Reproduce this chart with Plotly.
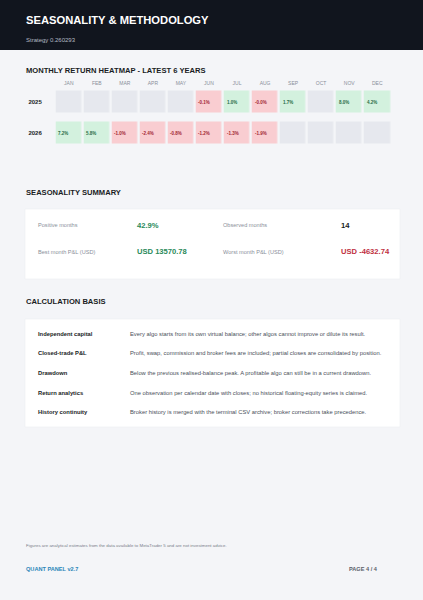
import plotly.graph_objects as go

W, H = 423, 600
FONT = "Liberation Sans, Arial, sans-serif"

months = ["JAN", "FEB", "MAR", "APR", "MAY", "JUN", "JUL", "AUG", "SEP", "OCT", "NOV", "DEC"]
years = ["2025", "2026"]
returns_2025 = [None, None, None, None, None, -0.1, 1.0, -0.04, 1.7, None, 8.0, 4.2]
returns_2026 = [7.2, 5.8, -1.0, -2.4, -0.8, -1.2, -1.3, -1.9, None, None, None, None]

summary_labels = ["Positive months", "Observed months", "Best month P&L (USD)", "Worst month P&L (USD)"]
summary_values = ["42.9%", "14", "USD 13570.78", "USD -4632.74"]

basis_labels = ["Independent capital", "Closed-trade P&L", "Drawdown", "Return analytics", "History continuity"]
basis_texts = [
    "Every algo starts from its own virtual balance; other algos cannot improve or dilute its result.",
    "Profit, swap, commission and broker fees are included; partial closes are consolidated by position.",
    "Below the previous realised-balance peak. A profitable algo can still be in a current drawdown.",
    "One observation per calendar date with closes; no historical floating-equity series is claimed.",
    "Broker history is merged with the terminal CSV archive; broker corrections take precedence.",
]

GREEN_BG, GREEN_TX = "#d3f1de", "#1f6b46"
RED_BG, RED_TX = "#f9cdd1", "#a32632"
EMPTY_BG = "#e6e8ee"


def px(x):
    return x / W


def py(y):
    return 1 - y / H


rows = [returns_2025, returns_2026]
z = [[0 if v is None else (1 if v >= 0 else 2) for v in r] for r in rows]
xi = list(range(len(months)))
yi = list(range(len(years)))

fig = go.Figure()
fig.add_trace(go.Heatmap(
    x=xi, y=yi, z=z,
    zmin=0, zmax=2,
    colorscale=[[0, EMPTY_BG], [0.25, EMPTY_BG], [0.25, GREEN_BG], [0.75, GREEN_BG],
                [0.75, RED_BG], [1, RED_BG]],
    showscale=False, xgap=2.5, ygap=9, hoverinfo="skip",
))

ann = []
for j, r in enumerate(rows):
    for i, v in enumerate(r):
        if v is None:
            continue
        ann.append(dict(x=i, y=j, xref="x", yref="y", text=f"<b>{v:.1f}%</b>",
                        xanchor="left", xshift=-12.5, showarrow=False,
                        font=dict(family=FONT, size=4.5, color=GREEN_TX if v >= 0 else RED_TX)))

shapes = []
# header band
shapes.append(dict(type="rect", xref="paper", yref="paper", x0=0, x1=1, y0=py(50), y1=1,
                   fillcolor="#11151e", line=dict(width=0), layer="below"))
# cards
for (y0, y1) in [(209, 279), (319, 427)]:
    shapes.append(dict(type="rect", xref="paper", yref="paper", x0=px(25), x1=px(400),
                       y0=py(y1), y1=py(y0), fillcolor="#ffffff",
                       line=dict(color="#eceef2", width=0.6), layer="below"))


def text(x, y, s, size, color, bold=False, anchor="left"):
    ann.append(dict(x=px(x), y=py(y), xref="paper", yref="paper", text=f"<b>{s}</b>" if bold else s,
                    xanchor=anchor, yanchor="middle", showarrow=False,
                    font=dict(family=FONT, size=size, color=color)))


text(24, 20, "SEASONALITY & METHODOLOGY", 11.2, "#ffffff", bold=True)
text(24, 40, "Strategy 0.260293", 6.0, "#b4b9c4")

text(24, 70, "MONTHLY RETURN HEATMAP - LATEST 6 YEARS", 7.6, "#1a1d24", bold=True)
text(24, 192, "SEASONALITY SUMMARY", 7.6, "#1a1d24", bold=True)
text(24, 301, "CALCULATION BASIS", 7.6, "#1a1d24", bold=True)

# summary
pos = [(36, 225), (221, 225), (36, 252), (221, 252)]
vpos = [(135, 225), (339, 225), (135, 252), (339, 252)]
vcol = ["#2a8a5a", "#1a1d24", "#2a8a5a", "#c0303f"]
for (lx, ly), lab in zip(pos, summary_labels):
    text(lx, ly, lab, 5.6, "#8a8f9a")
for (vx, vy), val, c in zip(vpos, summary_values, vcol):
    text(vx, vy, val, 7.6, c, bold=True)

# basis
for i, (lab, desc) in enumerate(zip(basis_labels, basis_texts)):
    yy = 334 + i * 19.5
    text(36, yy, lab, 5.8, "#1a1d24", bold=True)
    text(128, yy, desc, 5.8, "#4a4f5a")

text(24, 545, "Figures are analytical estimates from the data available to MetaTrader 5 and are not investment advice.",
     4.4, "#7a7f8a")
text(24, 569, "QUANT PANEL v2.7", 5.6, "#2a86b8", bold=True)
text(380, 569, "PAGE 4 / 4", 5.6, "#5a5f6a", bold=True, anchor="right")

fig.update_layout(
    width=W, height=H, autosize=False,
    margin=dict(l=0, r=0, t=0, b=0),
    paper_bgcolor="#f4f5f8", plot_bgcolor="rgba(0,0,0,0)",
    showlegend=False,
    shapes=shapes, annotations=ann,
    xaxis=dict(domain=[px(54.75), px(391.25)], range=[-0.5, len(months) - 0.5], side="top",
               tickmode="array", tickvals=xi, ticktext=months, showgrid=False,
               zeroline=False, ticks="", tickfont=dict(family=FONT, size=5, color="#8a8f9a"),
               fixedrange=True),
    yaxis=dict(domain=[py(148.5), py(86.5)], range=[len(years) - 0.5, -0.5],
               tickmode="array", tickvals=yi, ticktext=[f"<b>{y}</b>" for y in years], showgrid=False,
               zeroline=False, ticks="", tickfont=dict(family=FONT, size=6, color="#1a1d24"),
               ticklabelstandoff=12, fixedrange=True),
)

fig.write_html("out.html", config={"displayModeBar": False},
               post_script="document.body.style.margin='0';document.body.style.overflow='hidden';")
